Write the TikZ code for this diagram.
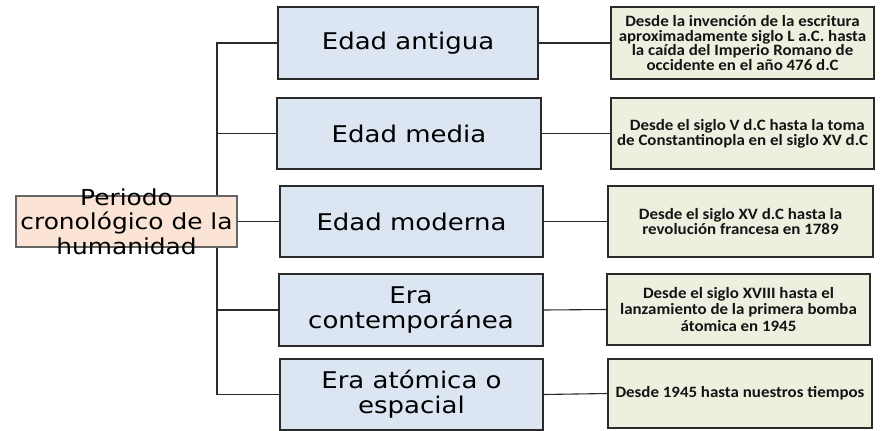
\documentclass[tikz,border=0pt]{standalone}
\usepackage{fontspec}
\newfontfamily\dvfont[FakeStretch=1.13]{DejaVu Sans}
\newfontfamily\calfont[FakeStretch=1.07]{Carlito}
\definecolor{blueF}{HTML}{DCE6F2}
\definecolor{greenF}{HTML}{EBF1DE}
\definecolor{peachF}{HTML}{FBE4D5}
\definecolor{edge}{HTML}{2A2A2A}
\begin{document}
\begin{tikzpicture}[x=1pt,y=-1pt,
  period/.style={draw=edge, line width=1.3pt, fill=blueF, inner sep=0pt, align=center,
    font=\dvfont\fontsize{23}{25}\selectfont},
  desc/.style={draw=edge, line width=1.3pt, fill=greenF, inner sep=0pt, align=center,
    text=black!92},
  conn/.style={draw=edge, line width=1.1pt}]
\useasboundingbox (0,0) rectangle (881,431);
\fill[white] (0,0) rectangle (881,431);
% root
\node[draw=black!60, line width=1.1pt, fill=peachF, minimum width=221, minimum height=51, inner sep=0pt] (root) at (126.5,221.5) {};
% periods
\node[period, minimum width=260, minimum height=72] (b1) at (408,43) {Edad antigua};
\node[period, minimum width=264, minimum height=71] (b2) at (409,133.5) {Edad media};
\node[period, minimum width=263, minimum height=71] (b3) at (411.5,221.5) {Edad moderna};
\node[period, minimum width=264, minimum height=72] (b4) at (411,310) {Era\\contemporánea};
\node[period, minimum width=263, minimum height=71] (b5) at (411.5,394.5) {Era atómica o\\espacial};
% descriptions
\node[desc, minimum width=263, minimum height=72, font=\calfont\bfseries\fontsize{15.8}{14.6}\selectfont] (g1) at (742.5,43)
  {Desde la invención de la escritura\\aproximadamente siglo L a.C. hasta\\la caída del Imperio Romano de\\occidente en el año 476 d.C};
\node[desc, minimum width=263, minimum height=71, font=\calfont\bfseries\fontsize{15.8}{15}\selectfont] (g2) at (742.5,133.5)
  {\hspace*{0.6em}Desde el siglo V d.C hasta la toma\\de Constantinopla en el siglo XV d.C};
\node[desc, minimum width=265, minimum height=71, font=\calfont\bfseries\fontsize{15.8}{14.8}\selectfont] (g3) at (740.5,221.5)
  {Desde el siglo XV d.C hasta la\\revolución francesa en 1789};
\node[desc, minimum width=263, minimum height=71, font=\calfont\bfseries\fontsize{15.8}{16.7}\selectfont] (g4) at (738.5,309.5)
  {Desde el siglo XVIII hasta el\\lanzamiento de la primera bomba\\átomica en 1945};
\node[desc, minimum width=264, minimum height=69, font=\calfont\bfseries\fontsize{15.8}{15}\selectfont] (g5) at (740,393.5)
  {Desde 1945 hasta nuestros tiempos};
% connectors
\coordinate (tr) at (217,221.5);
\draw[conn] (root.north -| tr) |- (b1.west);
\draw[conn] (tr |- b2.west) -- (b2.west);
\draw[conn] (root.south -| tr) |- (b5.west);
\draw[conn] (tr |- b4.west) -- (b4.west);
\draw[conn] (root.east) -- (b3.west);
\foreach \i in {1,...,5} { \draw[conn] (b\i.east) -- (g\i.west); }
% root text
\node[align=center, inner sep=0pt, font=\dvfont\fontsize{22}{24.5}\selectfont] (rt) at (126.5,221.5)
  {Periodo\\cronológico de la\\humanidad};
\end{tikzpicture}
\end{document}
